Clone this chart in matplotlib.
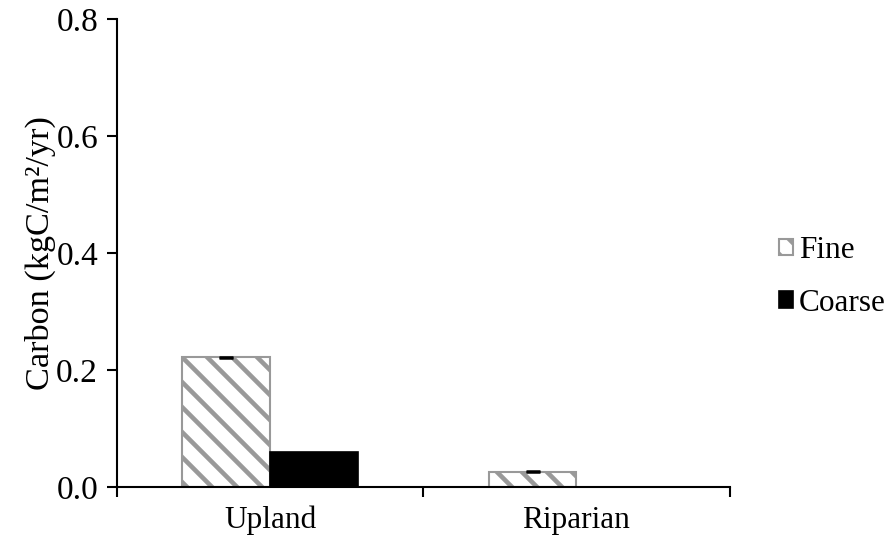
import matplotlib
matplotlib.use("Agg")
import matplotlib.pyplot as plt
import numpy as np

# Data
sites = ["Upland", "Riparian"]
fine = [0.222, 0.026]
coarse = [0.060, 0.0]
fine_err = [0.001, 0.001]

plt.rcParams["font.family"] = ["Liberation Serif", "DejaVu Serif"]
plt.rcParams["hatch.linewidth"] = 2.2
plt.rcParams["hatch.color"] = "#999999"

dpi = 150
fig = plt.figure(figsize=(892 / dpi, 546 / dpi), dpi=dpi)
ax = fig.add_axes([0.131, 0.108, 0.687, 0.857])

x = np.arange(len(sites))
w = 0.286

ax.bar(x - w / 2, fine, w, color="white", edgecolor="#999999", linewidth=1.0,
       hatch="\\\\", label="Fine")
ax.bar(x + w / 2, coarse, w, color="black", edgecolor="black", linewidth=0.8,
       label="Coarse")
ax.errorbar(x - w / 2, fine, yerr=fine_err, fmt="none", ecolor="black",
            elinewidth=1, capsize=3.5, capthick=1.2)

ax.set_xlim(-0.5, 1.5)
ax.set_ylim(0, 0.8)
ax.set_yticks([0.0, 0.2, 0.4, 0.6, 0.8])
ax.set_yticklabels(["0.0", "0.2", "0.4", "0.6", "0.8"])
ax.set_xticks(x)
ax.set_xticklabels(sites)
ax.set_xticks([-0.5, 0.5, 1.5], minor=True)
ax.tick_params(axis="x", which="major", length=0, labelsize=15, pad=9)
ax.tick_params(axis="x", which="minor", length=5, width=1, direction="out")
ax.tick_params(axis="y", length=5, width=1, direction="out", labelsize=16, pad=4)

for s in ["top", "right"]:
    ax.spines[s].set_visible(False)
for s in ["left", "bottom"]:
    ax.spines[s].set_linewidth(1)

ax.set_ylabel("Carbon (kgC/m²/yr)", fontsize=16.5, labelpad=0)

ax.legend(loc="center left", bbox_to_anchor=(0.873, 0.493),
          bbox_transform=fig.transFigure, frameon=False, borderpad=0,
          borderaxespad=0, fontsize=15, handlelength=0.45, handleheight=0.45,
          handletextpad=0.2, labelspacing=0.75)

fig.savefig("out.png", dpi=dpi)
